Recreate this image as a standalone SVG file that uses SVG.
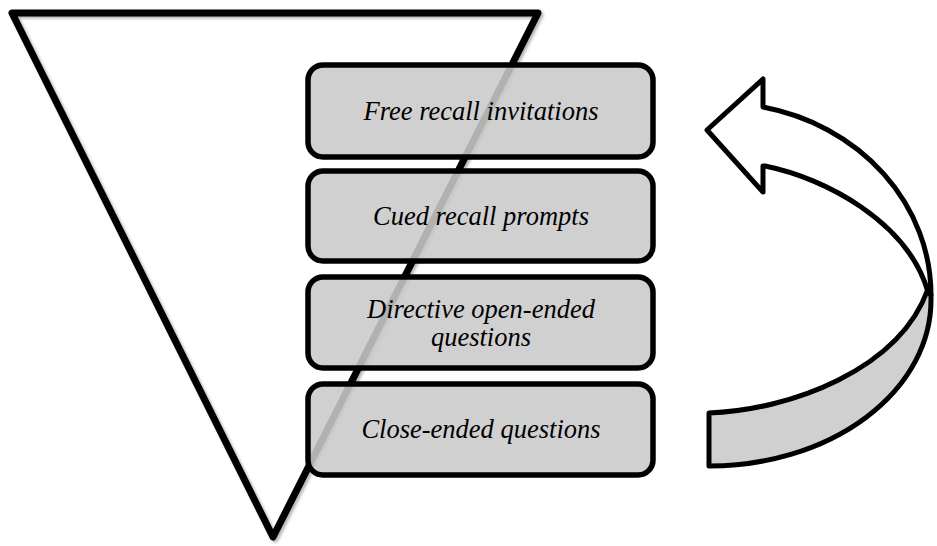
<svg xmlns="http://www.w3.org/2000/svg" width="937" height="546" viewBox="0 0 937 546">
  <defs>
    <filter id="soft-shadow" x="-5%" y="-5%" width="110%" height="110%">
      <feDropShadow dx="2" dy="2" stdDeviation="1.5" flood-color="#000" flood-opacity="0.3"/>
    </filter>
  </defs>
  <style>
    .funnel { fill: none; stroke: #000; stroke-width: 7; stroke-linejoin: round; }
    .step rect { fill: #cacaca; fill-opacity: 0.88; stroke: #000; stroke-width: 5.5; }
    .step text { font-family: "Liberation Serif", "Times New Roman", serif; font-style: italic; font-size: 26.5px; fill: #000; text-anchor: middle; }
    .arrow-front { fill: #fff; stroke: #000; stroke-width: 5; stroke-linejoin: round; }
    .arrow-back { fill: #d0d0d0; stroke: #000; stroke-width: 5; stroke-linejoin: round; }
  </style>

  <!-- inverted funnel triangle -->
  <g id="funnel">
    <polygon class="funnel" points="12,13 538,13 273,537" filter="url(#soft-shadow)"/>
  </g>

  <!-- question-type steps -->
  <g id="step-free-recall" class="step">
    <rect x="308" y="65" width="345" height="92" rx="15" ry="15"/>
    <text x="481" y="120">Free recall invitations</text>
  </g>
  <g id="step-cued-recall" class="step">
    <rect x="308" y="171" width="345" height="90" rx="15" ry="15"/>
    <text x="481" y="225">Cued recall prompts</text>
  </g>
  <g id="step-directive" class="step">
    <rect x="308" y="277" width="345" height="91" rx="15" ry="15"/>
    <text x="481" y="318">Directive open-ended</text>
    <text x="481" y="346">questions</text>
  </g>
  <g id="step-close-ended" class="step">
    <rect x="308" y="384" width="345" height="91" rx="15" ry="15"/>
    <text x="481" y="438">Close-ended questions</text>
  </g>

  <!-- curved return arrow: grey back face below, white front face with head -->
  <g id="connectors">
    <path class="arrow-back" d="M 709,466 A 222 166 0 0 0 931,300 L 931,295 L 928,289 C 899,370 790,410 709,413 Z"/>
    <path class="arrow-front" d="M 763,107 A 211 192 0 0 1 931,295 L 928,292 C 908,222 825,178 765,166 L 763,166 L 763,192 L 707,130 L 763,79 Z"/>
  </g>
</svg>
